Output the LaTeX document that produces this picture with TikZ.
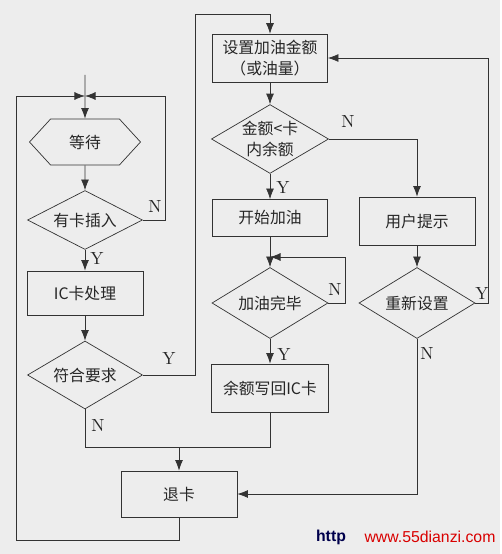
\documentclass[tikz,border=0pt]{standalone}
\usepackage{fontspec}
\newfontfamily\cjk{Noto Sans CJK SC}
\newfontfamily\webfont{Liberation Sans}
\usetikzlibrary{shapes.geometric, shapes.symbols, arrows.meta}
\tikzset{
	txt/.style = {font = \cjk\fontsize{9}{12}\selectfont, text = black!85},
	box/.style = {txt, draw, minimum width = 2.32cm, minimum height = 0.92cm},
	dec/.style = {txt, draw, diamond, aspect = 1.7, inner sep = 0pt, minimum width = 2.3cm, minimum height = 1.36cm},
	hex/.style = {txt, draw, signal, signal to = east and west, signal pointer angle = 95, inner sep = 0pt, minimum width = 2.22cm, minimum height = 0.92cm},
	yn/.style = {font = \normalsize, text = black!85}
}
\begin{document}
\begin{tikzpicture} [x = 0.02cm, y = -0.02cm, >={Latex[length = 6pt, width = 4.5pt]}, draw = black!80, thin]
	\fill [black!7] (0,0) rectangle (500,554);
	\coordinate (start) at (85,75);
	\coordinate (join) at (85,96);
	\coordinate (loop) at (270,257);
	\coordinate (merge) at (179,447);
	\node [hex] (wait) at (85,142) {等待};
	\node [dec, minimum height = 1.18cm] (card) at (85,220) {有卡插入};
	\node [box, minimum height = 0.88cm] (proc) at (85,293) {IC卡处理};
	\node [dec] (valid) at (85,375) {符合要求};
	\node [box] (quit) at (179,494) {退卡};
	\node [box, minimum width = 2.3cm, align = center] (set) at (270,58) {设置加油金额\\（或油量）};
	\node [dec, align = center] (cmp) at (270,139) {金额<卡\\内余额};
	\node [box, minimum width = 2.3cm, minimum height = 0.74cm] (fuel) at (270,218) {开始加油};
	\node [box, minimum height = 0.96cm] (hint) at (417,221) {用户提示};
	\node [dec, minimum width = 2.32cm, minimum height = 1.42cm] (done) at (270,303) {加油完毕};
	\node [dec, minimum width = 2.32cm, minimum height = 1.42cm] (reset) at (417,303) {重新设置};
	\node [box, minimum width = 2.34cm, minimum height = 0.96cm] (wb) at (270,388) {余额写回IC卡};
	\draw [->] (start) -- (wait);
	\draw [->] (wait) -- (card);
	\draw [->] (card.east) -| (165,96) -- (join);
	\draw [->] (card) -- (proc);
	\draw [->] (proc) -- (valid);
	\draw [->] (valid.east) -| (195,14) -| (set);
	\draw (valid.south) -- (85,447) -| (wb.south);
	\draw [->] (merge) -- (quit);
	\draw [->] (quit.south) |- (16,540) |- (join);
	\draw [->] (set) -- (cmp);
	\draw [->] (cmp.east) -| (hint);
	\draw [->] (cmp) -- (fuel);
	\draw [->] (fuel) -- (done);
	\draw [->] (done.east) -| (345,257) -- (loop);
	\draw [->] (done) -- (wb);
	\draw [->] (hint) -- (reset);
	\draw [->] (reset.east) -| (488,58) -- (set.east);
	\draw [->] (reset.south) |- (quit.east);
	\node [yn] (cardn) at (155,206) {N};
	\node [yn] (cardy) at (97,258) {Y};
	\node [yn] (validy) at (169,358) {Y};
	\node [yn] (validn) at (98,425) {N};
	\node [yn] (cmpn) at (348,122) {N};
	\node [yn] (cmpy) at (283,187) {Y};
	\node [yn] (donen) at (335,289) {N};
	\node [yn] (doney) at (284,354) {Y};
	\node [yn] (resety) at (482,293) {Y};
	\node [yn] (resetn) at (427,353) {N};
	\node [font = \webfont\bfseries\fontsize{9}{10}\selectfont, text = black!70!blue] (http) at (331,537) {http};
	\node [font = \webfont\fontsize{9}{10}\selectfont, text = red!85!black] (site) at (430,537) {www.55dianzi.com};
\end{tikzpicture}
\end{document}
